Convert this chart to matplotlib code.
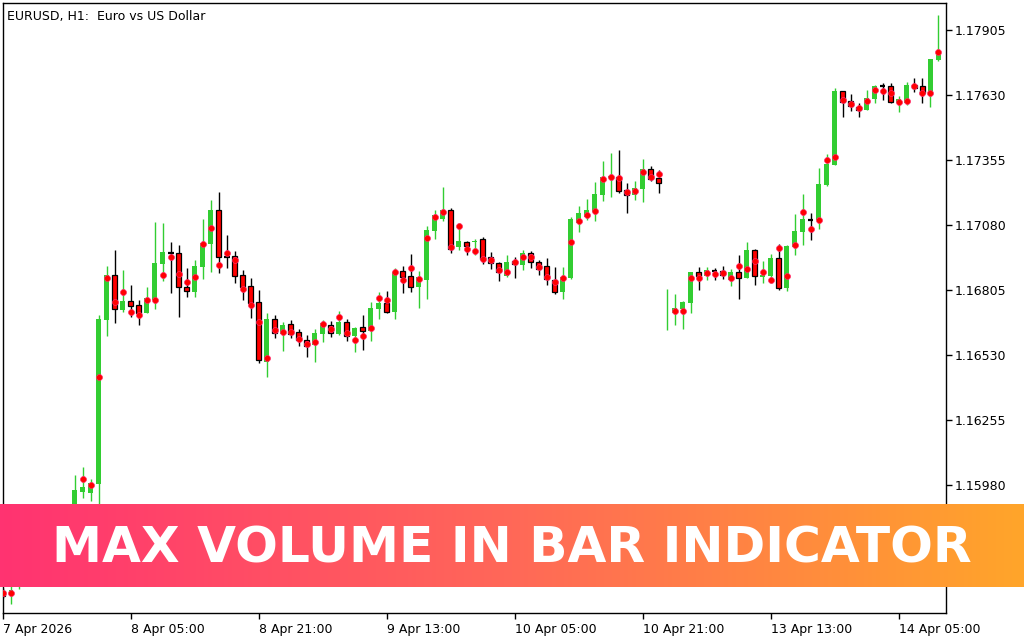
import numpy as np
import matplotlib.pyplot as plt
from matplotlib.colors import LinearSegmentedColormap

# EURUSD H1 candles (bar 0 = 7 Apr 2026 13:00)
opens = [1.15532, 1.15515, 1.15561, 1.15620, 1.15663, 1.15637, 1.15714, 1.15747, 1.15722, 1.15811,
         1.15950, 1.15946, 1.15984, 1.16678, 1.16869, 1.16721, 1.16759, 1.16742, 1.16708, 1.16763,
         1.16915, 1.16962, 1.16962, 1.16818, 1.16797, 1.16902, 1.17000, 1.17143, 1.16945, 1.16949,
         1.16869, 1.16822, 1.16754, 1.16500, 1.16682, 1.16619, 1.16661, 1.16627, 1.16594, 1.16572,
         1.16619, 1.16657, 1.16619, 1.16670, 1.16611, 1.16649, 1.16632, 1.16725, 1.16750, 1.16712,
         1.16885, 1.16864, 1.16818, 1.16847, 1.17055, 1.17105, 1.17143, 1.16987, 1.17008, 1.17008,
         1.17021, 1.16945, 1.16919, 1.16864, 1.16928, 1.16911, 1.16962, 1.16924, 1.16907, 1.16847,
         1.16797, 1.16856, 1.17089, 1.17114, 1.17135, 1.17207, 1.17279, 1.17283, 1.17228, 1.17207,
         1.17232, 1.17317, 1.17279, 1.16706, 1.16708, 1.16725, 1.16750, 1.16881, 1.16864, 1.16885,
         1.16885, 1.16847, 1.16881, 1.16856, 1.16974, 1.16860, 1.16864, 1.16940, 1.16814, 1.16987,
         1.17050, 1.17101, 1.17101, 1.17249, 1.17334, 1.17647, 1.17605, 1.17579, 1.17567, 1.17613,
         1.17668, 1.17668, 1.17596, 1.17596, 1.17672, 1.17668, 1.17630, 1.17778]
highs = [1.15544, 1.15557, 1.15654, 1.15697, 1.15705, 1.15747, 1.15790, 1.15798, 1.15853, 1.16022,
         1.16056, 1.16005, 1.16699, 1.16907, 1.16974, 1.16890, 1.16826, 1.16763, 1.16818, 1.17093,
         1.17089, 1.17008, 1.16995, 1.16898, 1.16932, 1.17105, 1.17186, 1.17220, 1.17038, 1.16970,
         1.16890, 1.16856, 1.16805, 1.16708, 1.16699, 1.16670, 1.16678, 1.16640, 1.16615, 1.16640,
         1.16678, 1.16674, 1.16716, 1.16682, 1.16649, 1.16699, 1.16754, 1.16797, 1.16801, 1.16898,
         1.16907, 1.16957, 1.16885, 1.17076, 1.17143, 1.17241, 1.17152, 1.17089, 1.17012, 1.17021,
         1.17029, 1.16966, 1.16925, 1.16953, 1.16945, 1.16974, 1.16970, 1.16932, 1.16940, 1.16902,
         1.16902, 1.17114, 1.17160, 1.17190, 1.17262, 1.17351, 1.17385, 1.17397, 1.17258, 1.17266,
         1.17359, 1.17330, 1.17313, 1.16809, 1.16788, 1.16759, 1.16881, 1.16902, 1.16902, 1.16898,
         1.16907, 1.16894, 1.16953, 1.17008, 1.16979, 1.16928, 1.16957, 1.17000, 1.16995, 1.17127,
         1.17211, 1.17131, 1.17321, 1.17380, 1.17660, 1.17647, 1.17634, 1.17596, 1.17651, 1.17672,
         1.17681, 1.17681, 1.17626, 1.17685, 1.17702, 1.17702, 1.17782, 1.17969]
lows = [1.15502, 1.15477, 1.15540, 1.15587, 1.15599, 1.15612, 1.15680, 1.15697, 1.15705, 1.15790,
        1.15925, 1.15912, 1.15883, 1.16611, 1.16665, 1.16712, 1.16691, 1.16657, 1.16708, 1.16725,
        1.16843, 1.16792, 1.16691, 1.16775, 1.16775, 1.16852, 1.16881, 1.16877, 1.16898, 1.16835,
        1.16763, 1.16687, 1.16496, 1.16437, 1.16602, 1.16547, 1.16602, 1.16568, 1.16522, 1.16500,
        1.16585, 1.16606, 1.16615, 1.16589, 1.16543, 1.16551, 1.16589, 1.16682, 1.16708, 1.16682,
        1.16792, 1.16797, 1.16729, 1.16767, 1.17021, 1.17097, 1.16962, 1.16974, 1.16953, 1.16953,
        1.16915, 1.16894, 1.16843, 1.16860, 1.16856, 1.16890, 1.16898, 1.16869, 1.16826, 1.16788,
        1.16767, 1.16852, 1.17050, 1.17101, 1.17097, 1.17182, 1.17199, 1.17215, 1.17131, 1.17186,
        1.17177, 1.17266, 1.17215, 1.16636, 1.16657, 1.16640, 1.16708, 1.16805, 1.16847, 1.16847,
        1.16852, 1.16822, 1.16767, 1.16856, 1.16826, 1.16835, 1.16835, 1.16805, 1.16801, 1.16953,
        1.16995, 1.17017, 1.17063, 1.17245, 1.17334, 1.17537, 1.17562, 1.17537, 1.17567, 1.17596,
        1.17609, 1.17596, 1.17558, 1.17588, 1.17643, 1.17596, 1.17579, 1.17774]
closes = [1.15510, 1.15536, 1.15620, 1.15663, 1.15637, 1.15714, 1.15747, 1.15722, 1.15811, 1.15959,
          1.15972, 1.15988, 1.16682, 1.16869, 1.16725, 1.16759, 1.16737, 1.16708, 1.16771, 1.16919,
          1.16966, 1.16962, 1.16818, 1.16801, 1.16907, 1.17004, 1.17143, 1.16945, 1.16945, 1.16864,
          1.16818, 1.16750, 1.16509, 1.16682, 1.16623, 1.16657, 1.16619, 1.16594, 1.16568, 1.16623,
          1.16665, 1.16623, 1.16670, 1.16611, 1.16644, 1.16632, 1.16729, 1.16750, 1.16712, 1.16881,
          1.16860, 1.16818, 1.16860, 1.17059, 1.17122, 1.17143, 1.16979, 1.17012, 1.16991, 1.17012,
          1.16936, 1.16919, 1.16881, 1.16924, 1.16915, 1.16962, 1.16924, 1.16894, 1.16852, 1.16797,
          1.16860, 1.17105, 1.17131, 1.17143, 1.17211, 1.17283, 1.17287, 1.17224, 1.17207, 1.17237,
          1.17317, 1.17275, 1.17258, 1.16708, 1.16729, 1.16754, 1.16881, 1.16864, 1.16890, 1.16885,
          1.16869, 1.16881, 1.16856, 1.16974, 1.16864, 1.16869, 1.16940, 1.16814, 1.16991, 1.17055,
          1.17105, 1.17101, 1.17254, 1.17338, 1.17647, 1.17600, 1.17583, 1.17567, 1.17617, 1.17668,
          1.17668, 1.17600, 1.17613, 1.17672, 1.17660, 1.17639, 1.17782, 1.17812]
# price level with the biggest volume inside each bar (red dots)
max_volume_price = [1.15523, 1.15523, 1.15587, 1.15642, 1.15654, 1.15684, 1.15726, 1.15739, 1.15790, 1.15853,
                    1.16005, 1.15980, 1.16437, 1.16856, 1.16754, 1.16797, 1.16712, 1.16699, 1.16763, 1.16763,
                    1.16869, 1.16945, 1.16873, 1.16839, 1.16860, 1.17000, 1.17067, 1.16911, 1.16962, 1.16932,
                    1.16809, 1.16742, 1.16670, 1.16517, 1.16636, 1.16627, 1.16627, 1.16598, 1.16577, 1.16585,
                    1.16661, 1.16640, 1.16691, 1.16623, 1.16594, 1.16611, 1.16644, 1.16771, 1.16763, 1.16881,
                    1.16847, 1.16898, 1.16852, 1.17025, 1.17114, 1.17135, 1.16987, 1.17076, 1.16979, 1.16970,
                    1.16936, 1.16932, 1.16890, 1.16881, 1.16924, 1.16945, 1.16945, 1.16902, 1.16860, 1.16839,
                    1.16856, 1.17008, 1.17097, 1.17122, 1.17139, 1.17275, 1.17283, 1.17279, 1.17220, 1.17224,
                    1.17304, 1.17283, 1.17296, np.nan, 1.16716, 1.16716, 1.16856, 1.16856, 1.16877, 1.16873,
                    1.16877, 1.16856, 1.16907, 1.16894, 1.16928, 1.16881, 1.16847, 1.16983, 1.16864, 1.16995,
                    1.17135, 1.17063, 1.17101, 1.17355, 1.17368, 1.17609, 1.17592, 1.17575, 1.17605, 1.17651,
                    1.17647, 1.17639, 1.17600, 1.17605, 1.17668, 1.17639, 1.17639, 1.17812]

time_labels = ['7 Apr 2026', '8 Apr 05:00', '8 Apr 21:00', '9 Apr 13:00',
               '10 Apr 05:00', '10 Apr 21:00', '13 Apr 13:00', '14 Apr 05:00']
price_ticks = [1.15980, 1.16255, 1.16530, 1.16805, 1.17080, 1.17355, 1.17630, 1.17905]

BULL = '#32cd32'
BEAR = '#ff0000'

o = np.array(opens)
h = np.array(highs)
l = np.array(lows)
c = np.array(closes)
x = np.arange(len(o))

fig = plt.figure(figsize=(10.24, 6.4), dpi=100)
ax = fig.add_axes([3 / 1024, 27 / 640, 943 / 1024, 610 / 640])

up = c > o
down = c < o
flat = c == o

# wicks
ax.vlines(x[up], l[up], h[up], color=BULL, lw=1.0, zorder=2)
ax.vlines(x[~up], l[~up], h[~up], color='black', lw=1.0, zorder=2)

# bodies
w = 0.62
ax.bar(x[up], c[up] - o[up], bottom=o[up], width=w, color=BULL, lw=0, zorder=3)
ax.bar(x[down], o[down] - c[down], bottom=c[down], width=w, color=BEAR,
       edgecolor='black', lw=0.9, zorder=3)
ax.hlines(o[flat], x[flat] - 0.36, x[flat] + 0.36, color='black', lw=1.6, zorder=3)

# max volume levels
ax.plot(x, max_volume_price, 'o', ms=4.3, mfc='#ff0000', mec='#ff2a6a', mew=0.5,
        ls='none', zorder=4)

ax.set_xlim(0.0625, 117.94)
ax.set_ylim(1.15438, 1.18019)

ax.set_xticks(np.arange(0, 16 * len(time_labels), 16))
ax.set_xticklabels(time_labels)
for lab in ax.get_xticklabels():
    lab.set_horizontalalignment('left')
ax.set_yticks(price_ticks)
ax.set_yticklabels([f'{p:.5f}' for p in price_ticks])
ax.yaxis.tick_right()
ax.tick_params(axis='both', direction='out', length=4, width=1, colors='black',
               labelsize=9, pad=2)
ax.tick_params(axis='x', pad=3)
for sp in ax.spines.values():
    sp.set_linewidth(1)
    sp.set_color('black')

ax.text(0.004, 0.989, 'EURUSD, H1:  Euro vs US Dollar', transform=ax.transAxes,
        ha='left', va='top', fontsize=9, color='black')

# banner
bax = fig.add_axes([0, 53 / 640, 1, 83 / 640])
grad = LinearSegmentedColormap.from_list('banner', ['#ff3371', '#ff6858', '#ffa52a'])
bax.imshow(np.linspace(0, 1, 512).reshape(1, -1), cmap=grad, aspect='auto',
           extent=[0, 1, 0, 1])
bax.set_xlim(0, 1)
bax.set_ylim(0, 1)
bax.axis('off')
title = bax.text(0.5, 0.30, 'MAX VOLUME IN BAR INDICATOR', ha='center', va='baseline',
                 color='white', fontsize=36, fontfamily='DejaVu Sans', fontweight='bold')

# fit the banner text to its width in the reference (~920 px)
fig.canvas.draw()
tw = title.get_window_extent().width
title.set_fontsize(36 * 920 / tw)

fig.savefig('out.png', dpi=100)
